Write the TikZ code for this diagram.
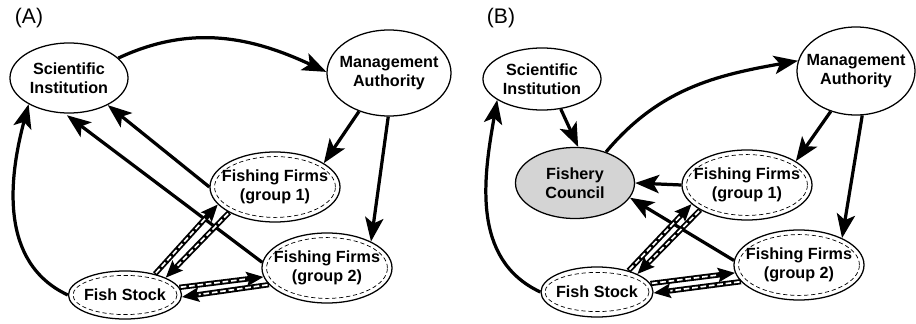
\documentclass[tikz,border=0pt]{standalone}
\usepackage{fontspec}
\setmainfont{Liberation Sans}
\usetikzlibrary{arrows.meta,shapes}
\tikzstyle{agent}=[ellipse,draw,line width=0.9pt,inner xsep=-8pt,inner ysep=-2pt,align=center,font=\bfseries\fontsize{11.5}{13.5}\selectfont]
\tikzstyle{firm}=[agent,minimum width=3.25cm,minimum height=1.75cm,
  path picture={\draw[line width=0.5pt,dash pattern=on 3pt off 2pt] (path picture bounding box.center) ellipse [x radius=1.51cm,y radius=0.76cm];}]
\tikzstyle{stock}=[agent,minimum width=2.825cm,minimum height=1.2cm,
  path picture={\draw[line width=0.5pt,dash pattern=on 3pt off 2pt] (path picture bounding box.center) ellipse [x radius=1.3cm,y radius=0.49cm];}]
\tikzstyle{panel}=[font=\fontsize{15}{18}\selectfont]
\tikzstyle{edge}=[draw,line width=2.3pt,-{Stealth[length=17pt,width=13pt,inset=4pt]}]
\tikzstyle{flow}=[draw,line width=3.8pt,-{Stealth[length=12pt,width=10pt,inset=2pt]},
  postaction={draw=white,line width=1.2pt,dash pattern=on 4pt off 2pt,shorten >=12pt,shorten <=1pt,-}]

\begin{document}
\begin{tikzpicture}[x=0.025cm,y=0.025cm]
\useasboundingbox (0,0) rectangle (916,323);
% (A)
\node[panel] (labA) at (29,305) {(A)};
\node[agent,minimum width=2.95cm,minimum height=1.75cm] (siA) at (69,245) {Scientific\\Institution};
\node[agent,minimum width=3.1cm,minimum height=2.15cm] (maA) at (389,250) {Management\\Authority};
\node[firm] (f1A) at (275,136) {Fishing Firms\\(group 1)};
\node[firm] (f2A) at (327,55) {Fishing Firms\\(group 2)};
\node[stock] (fsA) at (125,28) {Fish Stock};

\path[edge] (siA.22) to[out=25,in=155] (maA.179);
\path[edge] (maA.232) -- (f1A.26);
\path[edge] (maA.269) -- (f2A.31);
\path[edge] (f1A.180) -- (siA.325);
\path[edge,shorten >=2pt] (f2A.175) -- (siA.263);
\path[edge] (fsA.180) to[out=155,in=255] (siA.213);
\path[flow] (fsA.35) -- (f1A.197);
\path[flow] (f1A.209) -- (fsA.23);
\path[flow] (fsA.8) -- (f2A.188);
\path[flow] (f2A.196) -- (fsA.358);

% (B)
\node[panel] (labB) at (501,305) {(B)};
\node[agent,minimum width=2.95cm,minimum height=1.55cm] (siB) at (542,244) {Scientific\\Institution};
\node[agent,minimum width=2.95cm,minimum height=2.2cm] (maB) at (856,252) {Management\\Authority};
\node[agent,fill=black!17,minimum width=2.975cm,minimum height=1.775cm] (fcB) at (575,140) {Fishery\\Council};
\node[firm] (f1B) at (747,138) {Fishing Firms\\(group 1)};
\node[firm] (f2B) at (799,58) {Fishing Firms\\(group 2)};
\node[stock,minimum width=2.8cm,minimum height=1.25cm] (fsB) at (597,31) {Fish Stock};

\path[edge] (siB.302) -- (fcB.85);
\path[edge] (fcB.45) to[out=50,in=190] (maB.170);
\path[edge] (maB.238) -- (f1B.26);
\path[edge] (maB.278) -- (f2B.32);
\path[edge] (f1B.west) -- (fcB.east);
\path[edge] (f2B.176) -- (fcB.345);
\path[edge] (fsB.180) to[out=155,in=260] (siB.205);
\path[flow] (fsB.34) -- (f1B.199);
\path[flow] (f1B.208) -- (fsB.24);
\path[flow] (fsB.9) -- (f2B.187);
\path[flow] (f2B.196) -- (fsB.359);
\end{tikzpicture}
\end{document}
